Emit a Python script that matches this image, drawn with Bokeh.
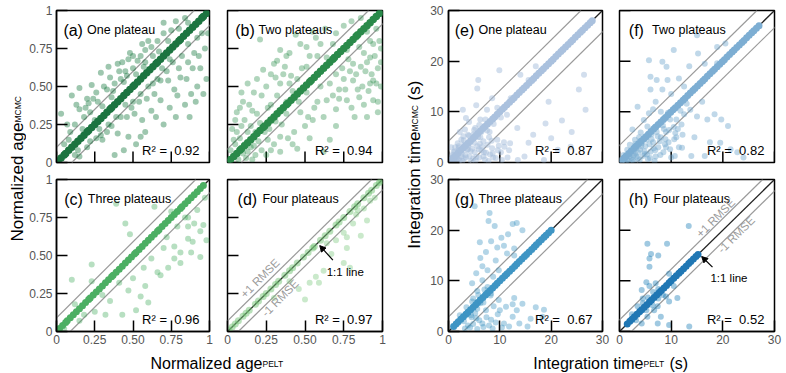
import math
from bokeh.plotting import figure
from bokeh.layouts import row, column
from bokeh.models import Range1d, FixedTicker, Slope, Arrow, NormalHead
from bokeh.embed import file_html
from bokeh.resources import INLINE
from bokeh.core.properties import value

FONT = "Liberation Sans"

# ---------------- data ----------------
age_ticks = [0, 0.25, 0.5, 0.75, 1]
age_tick_labels = ["0", "0.25", "0.50", "0.75", "1"]
time_ticks = [0, 10, 20, 30]
time_tick_labels = ["0", "10", "20", "30"]

panel_tags = ["(a)", "(b)", "(c)", "(d)", "(e)", "(f)", "(g)", "(h)"]
panel_names = ["One plateau", "Two plateaus", "Three plateaus", "Four plateaus",
               "One plateau", "Two plateaus", "Three plateaus", "Four plateaus"]
r2_values = [0.92, 0.94, 0.96, 0.97, 0.87, 0.82, 0.67, 0.52]
age_rmse = [0.10, 0.09, 0.09, 0.07]
time_rmse = [4.2, 3.4, 2.9, 2.3]

# points that sit on the 1:1 line (MCMC == PELT)
a_band = [0.01,0.03,0.05,0.06,0.08,0.10,0.12,0.14,0.16,0.18,0.20,0.21,0.23,0.25,0.27,0.29,0.31,0.33,0.35,0.36,
          0.38,0.40,0.42,0.44,0.46,0.48,0.50,0.51,0.53,0.55,0.57,0.59,0.61,0.63,0.65,0.66,0.68,0.70,0.72,0.74,
          0.76,0.78,0.80,0.81,0.83,0.85,0.87,0.89,0.91,0.93,0.95,0.96,0.98]
b_band = [0.00,0.02,0.04,0.06,0.08,0.09,0.11,0.13,0.15,0.17,0.19,0.21,0.23,0.24,0.26,0.28,0.30,0.32,0.34,0.36,
          0.38,0.39,0.41,0.43,0.45,0.47,0.49,0.51,0.53,0.54,0.56,0.58,0.60,0.62,0.64,0.66,0.68,0.69,0.71,0.73,
          0.75,0.77,0.79,0.81,0.83,0.84,0.86,0.88,0.90,0.92,0.94,0.96,0.98,0.99]
c_band = [0.00,0.02,0.04,0.06,0.07,0.09,0.11,0.13,0.15,0.17,0.19,0.21,0.22,0.24,0.26,0.28,0.30,0.32,0.34,0.36,
          0.37,0.39,0.41,0.43,0.45,0.47,0.49,0.51,0.52,0.54,0.56,0.58,0.60,0.62,0.64,0.66,0.67,0.69,0.71,0.73,
          0.75,0.77,0.79,0.81,0.82,0.84,0.86,0.88,0.90,0.92,0.94,0.96]
d_band = [0.01,0.03,0.05,0.07,0.10,0.12,0.14,0.18,0.20,0.23,0.25,0.28,0.31,0.33,0.37,0.40,0.42,0.45,0.49,0.52,
          0.55,0.56,0.60,0.63,0.66,0.70,0.72,0.75,0.79,0.82,0.84,0.88,0.91,0.93,0.96,0.98,0.99]
e_band = [0.5,1.0,1.4,1.9,2.4,2.9,3.3,3.8,4.3,4.8,5.2,5.7,6.2,6.7,7.1,7.6,8.1,8.6,9.0,9.5,
          10.0,10.5,10.9,11.4,11.9,12.4,12.8,13.3,13.8,14.3,14.7,15.2,15.7,16.2,16.6,17.1,17.6,18.1,18.5,19.0,
          19.5,20.0,20.4,20.9,21.4,21.9,22.3,22.8,23.3,23.8,24.2,24.7,25.2,25.7,26.1,26.6,27.1,27.6,28.0]
f_band = [0.4,0.9,1.3,1.8,2.3,2.8,3.2,3.7,4.2,4.7,5.1,5.6,6.1,6.6,7.0,7.5,8.0,8.5,8.9,9.4,
          9.9,10.4,10.8,11.3,11.8,12.3,12.7,13.2,13.7,14.2,14.6,15.1,15.6,16.1,16.5,17.0,17.5,18.0,18.4,18.9,
          19.4,19.9,20.3,20.8,21.3,21.8,22.2,22.7,23.2,23.7,24.1,24.6,25.1,25.6,26.0,26.5,27.0]
g_band = [1.0,1.5,1.9,2.4,2.9,3.4,3.8,4.3,4.8,5.3,5.7,6.2,6.7,7.2,7.6,8.1,8.6,9.1,9.5,10.0,
          10.5,11.0,11.4,11.9,12.4,12.9,13.3,13.8,14.3,14.8,15.2,15.7,16.2,16.7,17.1,17.6,18.1,18.6,19.0,19.5,20.0]
h_band = [1.5,2.0,2.4,2.9,3.4,3.9,4.3,4.8,5.3,5.8,6.2,6.7,7.2,7.7,8.1,8.6,9.1,9.6,10.0,10.5,
          11.0,11.5,11.9,12.4,12.9,13.4,13.8,14.3,14.8,15.2]

# points off the 1:1 line, (PELT, MCMC)
a_points = [(0.03,0.32),(0.15,0.49),(0.10,0.44),(0.23,0.51),(0.29,0.59),(0.34,0.63),(0.40,0.65),(0.48,0.72),(0.58,0.74),(0.66,0.80),
            (0.70,0.92),(0.60,0.80),(0.15,0.35),(0.21,0.39),(0.30,0.37),(0.36,0.43),(0.17,0.22),(0.08,0.15),(0.25,0.28),(0.40,0.19),
            (0.36,0.24),(0.51,0.32),(0.62,0.34),(0.47,0.17),(0.30,0.15),(0.56,0.28),(0.68,0.41),(0.77,0.48),(0.81,0.56),(0.86,0.66),
            (0.90,0.72),(0.92,0.50),(0.73,0.54),(0.79,0.44),(0.64,0.45),(0.68,0.54),(0.05,0.12),(0.12,0.25),(0.18,0.30),(0.22,0.33),
            (0.27,0.40),(0.33,0.48),(0.38,0.52),(0.42,0.55),(0.45,0.60),(0.50,0.62),(0.53,0.67),(0.55,0.70),(0.62,0.76),(0.70,0.85),
            (0.75,0.87),(0.78,0.93),(0.84,0.95),(0.58,0.66),(0.44,0.53),(0.26,0.46),(0.20,0.42),(0.09,0.20),(0.35,0.56),(0.47,0.68),
            (0.12,0.05),(0.20,0.10),(0.26,0.16),(0.34,0.25),(0.42,0.30),(0.45,0.38),(0.50,0.40),(0.55,0.45),(0.60,0.50),(0.66,0.55),
            (0.72,0.60),(0.76,0.66),(0.82,0.70),(0.86,0.78),(0.92,0.82),(0.95,0.85),(0.97,0.75),(0.94,0.62),(0.98,0.55),(0.96,0.45),
            (0.88,0.45),(0.84,0.38),(0.74,0.36),(0.70,0.25),(0.58,0.20),(0.52,0.12),(0.44,0.08),(0.38,0.05),(0.15,0.04),(0.29,0.18),
            (0.07,0.25),(0.13,0.38),(0.19,0.36),(0.24,0.42),(0.31,0.50),(0.37,0.47),(0.41,0.60),(0.46,0.57),(0.52,0.58),(0.57,0.63),
            (0.63,0.70),(0.67,0.73),(0.73,0.80),(0.80,0.88),(0.86,0.92),(0.56,0.78),(0.50,0.70),(0.43,0.66),(0.14,0.08),(0.22,0.14),
            (0.28,0.22),(0.33,0.20),(0.39,0.30),(0.46,0.30),(0.49,0.36),(0.54,0.40),(0.59,0.42),(0.63,0.52),(0.69,0.62),(0.74,0.68),
            (0.80,0.62),(0.85,0.55),(0.89,0.62),(0.93,0.70),(0.99,0.85),(0.91,0.40),(0.87,0.30),(0.78,0.30),(0.65,0.30),(0.55,0.17)]
b_points = [(0.21,0.81),(0.34,0.74),(0.40,0.72),(0.47,0.78),(0.51,0.76),(0.60,0.78),(0.64,0.69),(0.32,0.67),(0.23,0.61),(0.13,0.52),
            (0.09,0.46),(0.06,0.33),(0.17,0.46),(0.25,0.50),(0.34,0.52),(0.41,0.57),(0.37,0.63),(0.51,0.63),(0.68,0.78),(0.77,0.74),
            (0.85,0.76),(0.92,0.80),(0.92,0.69),(0.81,0.65),(0.89,0.60),(0.94,0.54),(0.81,0.54),(0.72,0.48),(0.77,0.41),(0.85,0.43),
            (0.94,0.41),(0.70,0.35),(0.64,0.41),(0.60,0.50),(0.51,0.46),(0.47,0.33),(0.55,0.28),(0.43,0.20),(0.34,0.17),(0.26,0.15),
            (0.17,0.11),(0.13,0.20),(0.09,0.24),(0.21,0.26),(0.04,0.15),(0.13,0.07),(0.34,0.07),(0.45,0.09),(0.66,0.15),(0.62,0.07),
            (0.88,0.72),(0.90,0.66),(0.95,0.70),(0.97,0.62),(0.93,0.58),(0.86,0.63),(0.83,0.58),(0.79,0.60),(0.75,0.55),(0.87,0.50),
            (0.91,0.47),(0.96,0.52),(0.98,0.80),(0.96,0.88),(0.99,0.75),(0.83,0.82),(0.78,0.68),(0.74,0.62),(0.70,0.58),(0.66,0.52),
            (0.72,0.42),(0.80,0.36),(0.88,0.38),(0.97,0.40),(0.02,0.08),(0.05,0.12),(0.08,0.16),(0.10,0.06),(0.12,0.03),(0.15,0.10),
            (0.18,0.05),(0.20,0.14),(0.22,0.08),(0.06,0.20),(0.11,0.28),(0.15,0.24),(0.03,0.22),(0.08,0.36),(0.14,0.38),(0.19,0.32),
            (0.27,0.22),(0.30,0.12),(0.25,0.05),(0.28,0.38),(0.32,0.44),(0.38,0.40),(0.42,0.47),(0.45,0.55),(0.36,0.58),(0.28,0.58),
            (0.19,0.55),(0.30,0.65),(0.38,0.70),(0.44,0.84),(0.55,0.86),(0.58,0.70),(0.60,0.60),(0.56,0.36),(0.50,0.24),(0.62,0.30),
            (0.42,0.12),(0.35,0.25),(0.05,0.28),(0.10,0.40),(0.16,0.34),(0.22,0.44),(0.26,0.36),(0.31,0.56),(0.40,0.52),(0.48,0.62),
            (0.53,0.70),(0.57,0.82),(0.63,0.88),(0.70,0.85),(0.75,0.90),(0.80,0.93),(0.86,0.95),(0.90,0.86),(0.94,0.78),(0.99,0.66),
            (0.99,0.50),(0.92,0.52),(0.84,0.48),(0.76,0.48),(0.68,0.44),(0.58,0.40),(0.52,0.30),(0.46,0.40),(0.38,0.32),(0.31,0.27),
            (0.24,0.20),(0.18,0.20),(0.11,0.12),(0.07,0.02),(0.16,0.02),(0.28,0.08),(0.39,0.16),(0.53,0.16),(0.70,0.24),(0.82,0.30),
            (0.90,0.30),(0.97,0.33)]
c_points = [(0.39,0.84),(0.45,0.71),(0.48,0.64),(0.23,0.44),(0.23,0.33),(0.10,0.34),(0.25,0.13),(0.32,0.11),(0.18,0.11),(0.43,0.11),
            (0.52,0.14),(0.60,0.19),(0.55,0.23),(0.47,0.27),(0.41,0.32),(0.68,0.37),(0.66,0.39),(0.77,0.48),(0.81,0.52),(0.86,0.61),
            (0.89,0.59),(0.94,0.66),(0.86,0.69),(0.79,0.69),(0.75,0.79),(0.86,0.75),(0.90,0.71),(0.77,0.56),(0.81,0.45),(0.94,0.49),
            (0.64,0.82),(0.30,0.24),(0.35,0.20),(0.50,0.35),(0.57,0.42),(0.62,0.48),(0.70,0.55),(0.72,0.62),(0.84,0.75),(0.92,0.80),
            (0.97,0.88),(0.96,0.70),(0.98,0.60),(0.88,0.52),(0.73,0.42),(0.58,0.30),(0.15,0.07),(0.12,0.18),(0.05,0.02)]
d_points = [(0.75,0.65),(0.77,0.62),(0.81,0.71),(0.83,0.77),(0.88,0.81),(0.92,0.86),(0.90,0.73),(0.86,0.63),(0.62,0.40),(0.57,0.36),
            (0.59,0.32),(0.53,0.32),(0.46,0.28),(0.50,0.21),(0.75,0.45),(0.79,0.42),(0.77,0.55),(0.67,0.51),(0.70,0.60),(0.95,0.88),
            (0.40,0.33),(0.30,0.22),(0.64,0.58),(0.84,0.80)]
e_points = [(5.8,16.3),(9.9,18.2),(5.6,14.6),(8.5,12.7),(5.4,11.3),(2.8,10.4),(3.4,8.8),(7.5,10.4),(12.1,12.7),(14.0,17.3),
            (15.6,16.3),(11.4,9.4),(13.4,6.8),(18.9,7.7),(22.1,8.3),(26.7,10.4),(25.4,14.4),(26.4,17.3),(23.8,3.1),(21.3,2.5),
            (18.6,0.5),(15.6,3.9),(14.8,1.2),(13.5,0.5),(10.9,3.1),(10.4,0.5),(8.6,1.8),(6.8,1.2),(6.1,3.7),(7.9,5.0),
            (4.9,5.6),(1.1,0.5),(1.4,1.2),(2.1,0.4),(2.6,1.8),(3.0,0.8),(3.6,2.5),(4.1,1.2),(4.4,0.3),(5.1,2.0),
            (5.6,3.2),(6.0,1.0),(6.4,2.4),(7.1,0.6),(7.6,3.5),(8.1,1.6),(3.0,3.5),(2.0,2.8),(1.2,2.2),(4.2,4.0),
            (5.8,5.0),(3.8,5.5),(2.5,4.5),(6.8,4.2),(8.5,2.8),(9.2,0.9),(4.8,0.8),(1.8,3.8),(0.8,1.5),(3.2,6.5),
            (5.2,6.8),(7.2,7.0),(9.5,4.5),(10.2,2.0),(11.5,1.0),(12.0,3.8),(0.5,3.0),(2.2,6.0),(4.0,8.0),(6.2,8.5),
            (16.5,5.5),(20.0,4.8),(24.0,6.0),(19.5,12.0),(17.0,19.0),(1.0,2.0),(2.0,3.2),(3.0,4.4),(4.0,5.3),(5.0,6.4),
            (2.5,1.2),(3.8,2.6),(5.0,3.9),(6.2,5.0),(7.5,6.3),(6.0,7.4),(7.2,8.5),(8.8,7.6),(9.5,10.8),(10.2,8.9),
            (1.6,0.2),(3.3,1.5),(4.6,2.7),(5.4,1.1),(6.6,3.1),(7.3,1.9),(8.4,4.3),(9.8,3.3),(2.3,2.4),(1.7,1.2),
            (0.3,1.0),(0.9,0.2),(1.9,0.8),(2.7,0.3),(3.4,1.0),(4.3,2.2),(5.3,0.4),(5.9,2.6),(6.9,2.0),(7.8,0.3),
            (8.7,1.0),(9.6,2.4),(3.9,3.4),(4.7,4.6),(6.4,6.0),(2.9,5.2),(1.3,3.0),(8.0,6.0),(10.8,4.0),(11.8,2.4)]
f_points = [(5.7,20.2),(8.3,19.9),(9.1,18.9),(10.5,22.2),(15.0,25.1),(15.2,21.5),(18.9,22.8),(18.9,19.6),(11.5,16.6),(9.3,16.3),
            (6.0,16.9),(7.2,16.3),(6.0,14.4),(5.7,9.7),(8.3,14.4),(4.7,8.4),(5.4,7.1),(4.1,5.9),(3.5,11.0),(2.5,6.5),
            (7.0,12.0),(10.0,13.5),(12.5,15.0),(13.5,19.0),(16.5,19.5),(20.5,23.5),(3.0,4.5),(2.0,3.5),(6.5,10.5),(8.0,10.0),
            (13.7,10.4),(15.0,9.1),(17.0,8.5),(18.4,9.5),(19.7,8.5),(21.0,7.2),(19.5,3.9),(21.5,2.6),(22.8,2.0),(16.5,1.3),
            (13.9,1.3),(12.1,2.9),(10.7,1.3),(14.5,5.0),(17.5,4.0),(12.0,7.5),(11.0,5.0),(9.0,3.0),(24.0,1.0),(16.0,12.0),
            (0.5,0.3),(1.0,0.8),(1.5,0.4),(2.0,1.2),(2.5,0.5),(3.0,1.8),(3.5,0.9),(4.0,2.5),(4.5,1.3),(5.0,3.2),
            (5.5,0.7),(6.0,2.1),(6.5,4.0),(7.0,1.2),(7.5,3.0),(8.0,5.0),(8.5,2.0),(9.0,6.0),(9.5,4.0),(10.0,1.0),
            (10.5,7.0),(3.2,2.8),(5.2,4.5),(7.2,6.0),(1.8,1.6),(4.3,3.8),(6.2,5.6),(8.4,7.3),(2.8,0.2),(6.8,0.3),
            (11.0,8.5),(11.5,3.0),(12.5,9.5),(9.8,8.5),(0.8,1.5),(1.5,2.5),(3.8,5.0),(1.2,0.2),(2.3,0.9),(3.6,2.0),
            (4.8,2.2),(5.8,3.6),(6.6,2.8),(7.8,4.2),(8.8,3.6),(9.6,6.4),(10.8,5.8),(3.3,1.2),(5.3,1.6),(7.4,5.2),
            (8.6,6.6),(6.2,4.6),(4.2,3.2),(2.6,2.1),(11.8,10.2),(13.0,11.6),(1.8,0.3),(2.7,1.4),(3.9,0.5),(4.9,1.7),
            (5.9,0.9),(6.9,2.4),(7.9,1.5),(8.9,4.6),(9.8,2.6),(10.6,4.6),(11.3,6.6),(12.2,5.5),(4.0,4.2),(5.6,5.4),
            (6.8,6.9),(7.9,7.8),(3.0,3.6),(9.4,9.8)]
g_points = [(5.1,24.7),(8.0,23.4),(7.8,21.8),(9.0,20.8),(12.5,21.2),(13.3,21.4),(14.4,20.0),(11.6,19.2),(6.1,17.6),(8.3,17.8),
            (9.5,16.6),(7.3,15.7),(6.2,14.5),(10.8,16.9),(11.4,15.4),(12.8,15.0),(12.8,16.4),(6.6,12.9),(7.6,12.1),(5.4,11.5),
            (6.6,10.1),(8.7,10.8),(9.8,12.1),(7.6,8.8),(8.3,7.5),(9.8,6.2),(11.2,4.9),(12.5,5.4),(12.8,6.6),(13.3,4.2),
            (12.5,2.9),(10.8,1.6),(8.3,2.3),(6.6,1.6),(5.4,2.6),(7.3,4.2),(6.2,5.6),(15.4,1.0),(18.3,2.9),(18.6,4.3),
            (14.4,5.5),(10.0,4.2),(4.2,0.8),(4.8,1.5),(5.6,0.5),(6.0,2.2),(6.8,0.9),(7.4,2.8),(7.9,1.2),(8.6,0.6),
            (9.2,1.8),(5.2,3.6),(4.5,2.8),(3.8,1.2),(3.2,0.6),(9.6,3.4),(10.4,0.8),(11.8,1.0),(13.8,1.6),(16.0,2.5),
            (17.0,4.8),(8.8,5.0),(4.8,6.5),(5.6,8.0),(4.6,9.5),(9.2,14.0),(10.3,18.5),(2.2,3.2),(3.5,4.8),(4.6,5.9),
            (5.8,7.2),(7.0,8.3),(3.0,2.0),(4.4,3.2),(5.6,4.5),(6.8,5.7),(8.2,7.1)]
h_points = [(13.4,20.8),(9.2,17.3),(5.4,17.3),(6.1,15.3),(7.5,15.0),(5.8,14.4),(5.8,12.8),(9.6,11.4),(5.2,9.7),(5.8,9.0),
            (4.3,8.2),(9.6,5.9),(11.2,6.6),(9.0,6.9),(7.4,5.0),(6.7,4.2),(5.4,2.9),(4.3,1.6),(7.4,1.6),(9.6,1.3),
            (13.5,1.0),(2.8,2.9),(8.0,2.9),(10.5,9.0),(7.0,9.5),(4.5,6.5),(3.5,5.0),(4.5,5.6),(5.5,6.7),(6.5,7.8),
            (7.5,8.4),(5.2,4.2),(6.4,5.2),(7.5,6.5),(8.4,7.2),(3.2,2.2),(2.4,3.4)]

# ---------------- styling / layout ----------------
point_colors = ["#006d2c", "#238b45", "#41ab5d", "#74c476", "#a6bddb", "#74a9cf", "#3690c0", "#0570b0"]
band_colors = ["#1c7440", "#2a8a4a", "#4caf63", "#74c476", "#aac1de", "#7daed3", "#3f95c4", "#2077b4"]
band_alphas = [1.0, 1.0, 1.0, 0.5, 1.0, 1.0, 1.0, 1.0]
band_sizes = [7.5, 7.5, 7, 7, 7, 7, 7, 7]
point_alphas = [0.38, 0.36, 0.38, 0.38, 0.5, 0.45, 0.38, 0.38]
FW, FH = 155, 152
TICK_LEN = 11


def make_panel(i, points, band, vmax, ticks, tick_labels, rmse, show_x, show_y,
               bl, br, bt, bb, tag_f, name_f, y_standoff=5):
    p = figure(width=bl + FW + br, height=bt + FH + bb,
               x_range=Range1d(0, vmax), y_range=Range1d(0, vmax),
               output_backend="svg", toolbar_location=None, title=None,
               min_border_left=bl, min_border_right=br,
               min_border_top=bt, min_border_bottom=bb)
    p.grid.visible = False
    p.outline_line_color = "black"
    p.outline_line_width = 1.5
    p.outline_line_alpha = 1.0
    for ax, show in ((p.xaxis[0], show_x), (p.yaxis[0], show_y)):
        ax.ticker = FixedTicker(ticks=ticks)
        ax.major_label_overrides = {t: l for t, l in zip(ticks, tick_labels)}
        ax.major_tick_in = TICK_LEN
        ax.major_tick_out = 0
        ax.minor_tick_in = 0
        ax.minor_tick_out = 0
        ax.major_tick_line_width = 1.5
        ax.major_tick_line_color = "black"
        ax.axis_line_width = 1.5
        ax.axis_line_color = "black"
        ax.major_label_standoff = 3
        ax.major_label_text_font = FONT
        ax.major_label_text_color = "#555555"
        ax.major_label_text_font_size = "12px"
        ax.visible = show
    p.yaxis[0].major_label_standoff = y_standoff
    # inward tick marks on the sides whose tick labels are not shown
    n = len(ticks)
    if not show_x:
        p.segment(x0=ticks, y0=[0] * n, x1=ticks, y1=[TICK_LEN / FH * vmax] * n,
                  line_color="black", line_width=1.5)
    if not show_y:
        p.segment(x0=[0] * n, y0=ticks, x1=[TICK_LEN / FW * vmax] * n, y1=ticks,
                  line_color="black", line_width=1.5)

    for icpt, col, lw in ((rmse, "#9a9a9a", 1.2), (-rmse, "#9a9a9a", 1.2), (0, "#222222", 1.3)):
        p.add_layout(Slope(gradient=1, y_intercept=icpt, line_color=col,
                           line_width=lw, level="underlay"))

    p.scatter([q[0] for q in points], [q[1] for q in points], size=6,
              fill_color=point_colors[i], fill_alpha=point_alphas[i], line_color=None)
    p.scatter(band, band, size=band_sizes[i],
              fill_color=band_colors[i], fill_alpha=band_alphas[i], line_color=None)

    p.text(x=[tag_f * vmax], y=[0.87 * vmax], text=[panel_tags[i]],
           text_font=value(FONT), text_font_size="16px", text_color="black",
           text_baseline="alphabetic", text_align="left")
    p.text(x=[name_f * vmax], y=[0.87 * vmax], text=[panel_names[i]],
           text_font=value(FONT), text_font_size="12.5px", text_color="black",
           text_baseline="alphabetic", text_align="left")
    p.text(x=[0.935 * vmax], y=[0.08 * vmax], text=["R\u00b2 =\u00a0 %.2f" % r2_values[i]],
           text_font=value(FONT), text_font_size="13px", text_color="black",
           text_baseline="alphabetic", text_align="right")
    return p


def add_rmse_notes(p, plus_xy, minus_xy, note_xy, arrow_xy):
    for (x, y), t in ((plus_xy, "+1 RMSE"), (minus_xy, "-1 RMSE")):
        p.text(x=[x], y=[y], text=[t], angle=math.pi / 4, text_font=value(FONT),
               text_font_size="11.5px", text_color="#9a9a9a",
               text_align="center", text_baseline="middle")
    p.text(x=[note_xy[0]], y=[note_xy[1]], text=["1:1 line"], text_font=value(FONT),
           text_font_size="11.5px", text_color="black",
           text_align="left", text_baseline="alphabetic")
    p.add_layout(Arrow(end=NormalHead(size=6, fill_color="black", line_color="black"),
                       x_start=arrow_xy[0], y_start=arrow_xy[1],
                       x_end=arrow_xy[2], y_end=arrow_xy[3],
                       line_color="black", line_width=1.2))


def label_fig(w, h):
    p = figure(width=w, height=h, x_range=Range1d(0, w), y_range=Range1d(0, h),
               output_backend="svg", toolbar_location=None, title=None,
               x_axis_type=None, y_axis_type=None, min_border=0)
    p.outline_line_color = None
    return p


# group 1 (age)
pa = make_panel(0, a_points, a_band, 1, age_ticks, age_tick_labels, age_rmse[0], False, True,
                28, 5, 10, 8, 0.045, 0.20, y_standoff=4)
pb = make_panel(1, b_points, b_band, 1, age_ticks, age_tick_labels, age_rmse[1], False, False,
                13, 5, 10, 8, 0.05, 0.20)
pc = make_panel(2, c_points, c_band, 1, age_ticks, age_tick_labels, age_rmse[2], True, True,
                28, 5, 9, 17, 0.05, 0.205, y_standoff=4)
pd = make_panel(3, d_points, d_band, 1, age_ticks, age_tick_labels, age_rmse[3], True, False,
                13, 5, 9, 17, 0.065, 0.225)
add_rmse_notes(pd, (0.21, 0.35), (0.34, 0.22), (0.64, 0.39), (0.68, 0.47, 0.595, 0.565))

# group 2 (time)
pe = make_panel(4, e_points, e_band, 30, time_ticks, time_tick_labels, time_rmse[0], False, True,
                20, 8, 10, 8, 0.04, 0.195)
pf = make_panel(5, f_points, f_band, 30, time_ticks, time_tick_labels, time_rmse[1], False, False,
                9, 9, 10, 8, 0.06, 0.21)
pg = make_panel(6, g_points, g_band, 30, time_ticks, time_tick_labels, time_rmse[2], True, True,
                20, 8, 9, 17, 0.04, 0.195)
ph = make_panel(7, h_points, h_band, 30, time_ticks, time_tick_labels, time_rmse[3], True, False,
                9, 9, 9, 17, 0.06, 0.22)
add_rmse_notes(ph, (18.6, 22.4), (22.6, 19.1), (17.6, 10.5), (18.0, 12.7, 15.9, 14.8))

H = 372
yl1 = label_fig(26, H)
yl1.text(x=[17], y=[250], text=["Normalized age"], angle=math.pi / 2, text_font=value(FONT),
         text_font_size="17px", text_color="black", text_align="right", text_baseline="alphabetic")
yl1.text(x=[17], y=[250], text=["MCMC"], angle=math.pi / 2, text_font=value(FONT),
         text_font_size="8.5px", text_color="black", text_align="left", text_baseline="alphabetic")

yl2 = label_fig(40, H)
yl2.text(x=[27], y=[241], text=["Integration time"], angle=math.pi / 2, text_font=value(FONT),
         text_font_size="17px", text_color="black", text_align="right", text_baseline="alphabetic")
yl2.text(x=[27], y=[241], text=["MCMC"], angle=math.pi / 2, text_font=value(FONT),
         text_font_size="8.5px", text_color="black", text_align="left", text_baseline="alphabetic")
yl2.text(x=[27], y=[272], text=["(s)"], angle=math.pi / 2, text_font=value(FONT),
         text_font_size="17px", text_color="black", text_align="left", text_baseline="alphabetic")

XLH = 24
XLB = 9
xl1 = label_fig(361, XLH)
xl1.text(x=[236], y=[XLB], text=["Normalized age"], text_font=value(FONT),
         text_font_size="16px", text_color="black", text_align="right", text_baseline="alphabetic")
xl1.text(x=[236], y=[XLB], text=["PELT"], text_font=value(FONT),
         text_font_size="8.5px", text_color="black", text_align="left", text_baseline="alphabetic")

xl2 = label_fig(356, XLH)
xl2.text(x=[216], y=[XLB], text=["Integration time"], text_font=value(FONT),
         text_font_size="16px", text_color="black", text_align="right", text_baseline="alphabetic")
xl2.text(x=[216], y=[XLB], text=["PELT"], text_font=value(FONT),
         text_font_size="8.5px", text_color="black", text_align="left", text_baseline="alphabetic")
xl2.text(x=[242], y=[XLB], text=["(s)"], text_font=value(FONT),
         text_font_size="16px", text_color="black", text_align="left", text_baseline="alphabetic")

g1 = row(yl1, column(row(pa, pb), row(pc, pd), xl1))
g2 = row(yl2, column(row(pe, pf), row(pg, ph), xl2))
layout = row(g1, g2)

open("out.html", "w").write(file_html(layout, INLINE))
